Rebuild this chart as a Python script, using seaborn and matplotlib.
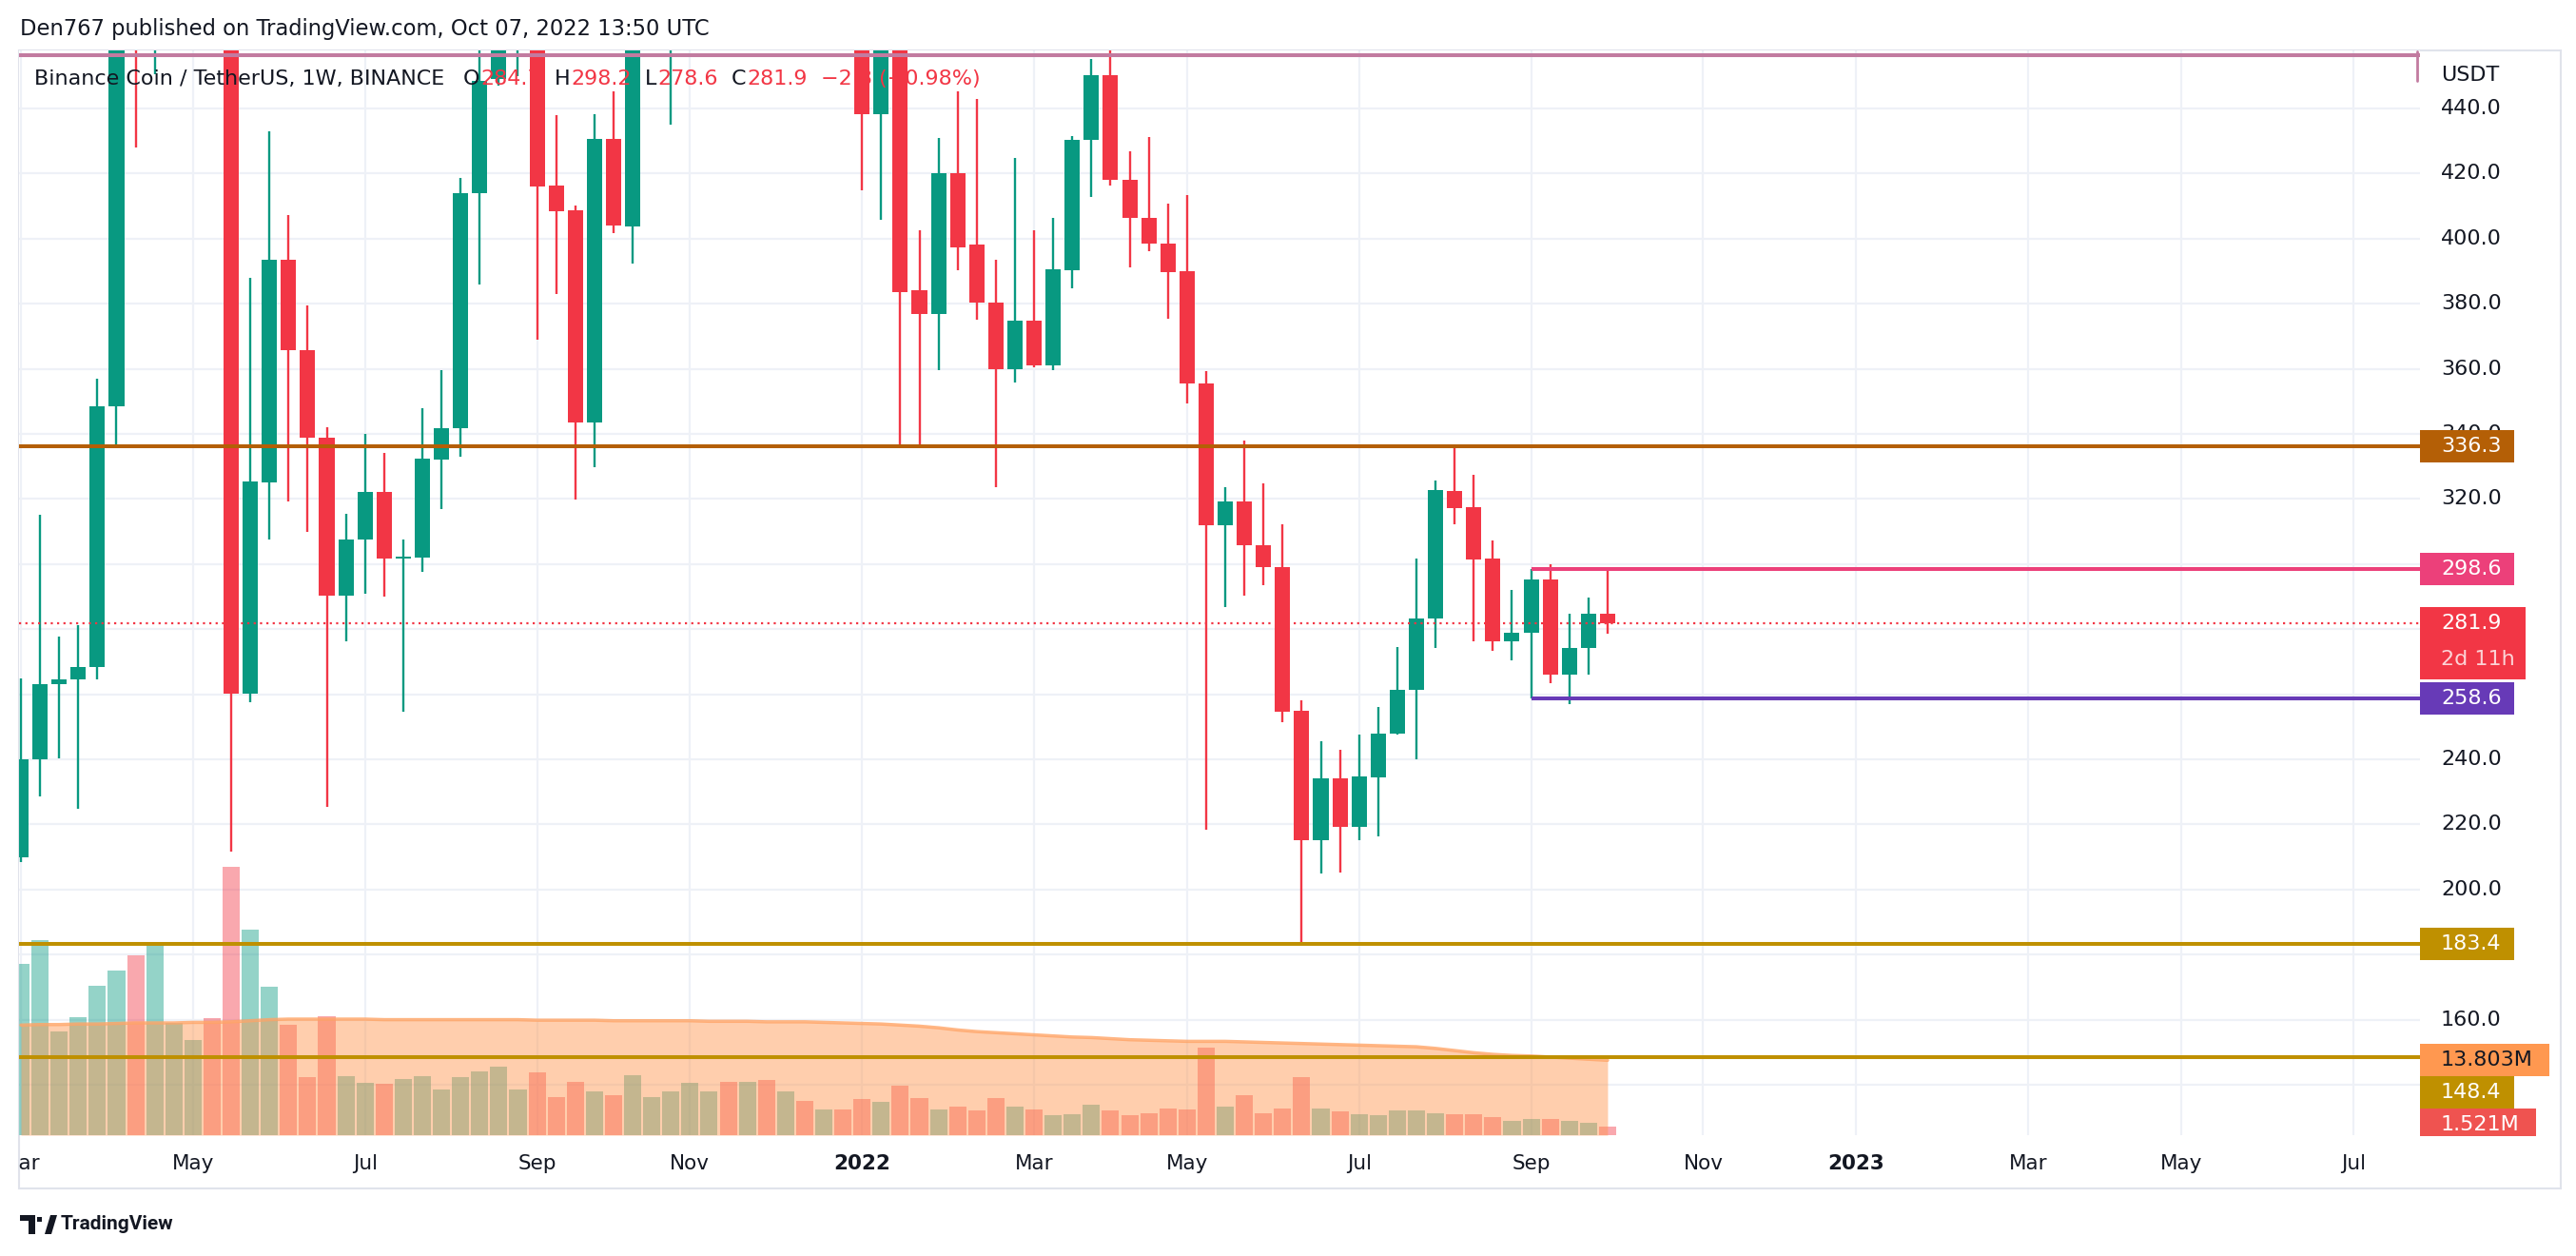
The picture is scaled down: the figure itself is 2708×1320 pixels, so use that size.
import numpy as np
import pandas as pd
import matplotlib
matplotlib.use("Agg")
import matplotlib.pyplot as plt
import seaborn as sns
from matplotlib.patches import Rectangle, Polygon
from matplotlib.lines import Line2D
from matplotlib.transforms import Bbox, blended_transform_factory

# ---------------- data (weekly BNB/USDT, starting Monday 2021-03-01) ----------------
start_date = "2021-03-01"
opens = [209.8, 239.9, 263.0, 264.4, 268.3, 348.5, 510.0, 480.0, 530.0, 620.0,
         640.0, 560.0, 260.3, 325.1, 393.5, 365.6, 338.9, 290.4, 307.5, 322.1,
         301.8, 302.0, 332.0, 341.6, 414.0, 449.0, 475.0, 495.0, 416.4, 408.6,
         343.5, 430.5, 403.6, 480.0, 495.0, 530.0, 580.0, 640.0, 560.0, 620.0,
         570.0, 580.0, 520.0, 545.0, 515.0, 438.3, 470.0, 384.0, 376.7, 420.0,
         398.1, 380.4, 359.8, 374.9, 361.0, 390.4, 430.2, 450.1, 418.0, 406.4,
         398.4, 389.9, 355.6, 312.0, 319.2, 305.7, 299.0, 255.0, 215.0, 234.0,
         219.1, 234.5, 247.8, 261.3, 283.3, 322.5, 317.5, 301.6, 276.2, 278.8,
         295.3, 266.0, 274.3, 284.7]
highs = [264.7, 315.2, 277.8, 281.2, 356.9, 520.0, 638.0, 560.0, 640.0, 690.0,
         690.0, 600.0, 388.0, 432.9, 407.3, 379.5, 342.0, 315.5, 340.0, 334.2,
         307.6, 347.8, 359.7, 418.5, 470.0, 490.0, 510.0, 520.0, 438.0, 410.1,
         438.1, 445.1, 520.0, 530.0, 560.0, 600.0, 670.0, 650.0, 640.0, 640.0,
         600.0, 590.0, 560.0, 560.0, 530.0, 500.0, 490.0, 402.4, 431.0, 445.2,
         442.9, 393.5, 424.8, 402.6, 406.2, 431.4, 455.3, 465.0, 426.8, 431.3,
         410.6, 413.5, 359.3, 323.5, 337.9, 324.7, 312.1, 258.0, 245.4, 243.0,
         247.7, 256.2, 274.6, 301.6, 325.6, 336.1, 327.4, 307.2, 291.9, 298.6,
         300.0, 284.8, 289.8, 298.2]
lows = [208.5, 228.7, 240.4, 224.8, 264.4, 336.6, 427.9, 450.4, 500.0, 600.0,
        480.0, 211.7, 257.4, 307.6, 319.1, 309.9, 225.3, 276.3, 290.9, 290.1,
        254.7, 297.5, 317.0, 333.0, 385.8, 447.0, 450.0, 369.0, 382.9, 319.9,
        329.8, 401.8, 392.4, 465.0, 435.1, 500.0, 560.0, 530.0, 540.0, 490.0,
        520.0, 490.0, 510.0, 500.0, 414.9, 405.7, 336.5, 336.5, 359.5, 390.4,
        375.1, 323.5, 355.8, 360.3, 359.5, 384.8, 412.7, 416.2, 391.1, 396.0,
        375.4, 349.3, 218.3, 286.7, 290.4, 293.4, 251.3, 183.4, 204.8, 205.3,
        215.0, 216.4, 247.5, 239.9, 274.1, 312.3, 276.2, 273.2, 270.5, 258.6,
        263.3, 256.8, 266.1, 278.6]
closes = [240.0, 263.2, 264.4, 268.2, 348.6, 510.0, 480.0, 530.0, 620.0, 640.0,
          560.0, 260.3, 325.4, 393.5, 365.6, 338.9, 290.4, 307.5, 322.1, 301.8,
          302.3, 332.4, 341.6, 414.0, 448.5, 475.0, 495.0, 415.9, 408.3, 343.5,
          430.5, 404.0, 480.0, 495.0, 530.0, 580.0, 640.0, 560.0, 620.0, 570.0,
          580.0, 520.0, 545.0, 515.0, 438.3, 470.0, 383.4, 376.7, 420.0, 397.4,
          380.2, 359.8, 374.9, 361.0, 390.6, 430.3, 450.1, 418.0, 406.4, 398.4,
          389.7, 355.5, 312.0, 319.2, 305.7, 298.9, 254.7, 215.0, 234.0, 219.1,
          234.8, 248.0, 261.4, 283.3, 322.7, 317.3, 301.5, 276.2, 279.0, 295.3,
          266.0, 274.3, 284.7, 281.9]
# volume in millions
volume = [31.5, 36.0, 19.2, 21.7, 27.5, 30.3, 33.1, 35.2, 20.7, 17.5,
          21.6, 49.4, 37.9, 27.3, 20.3, 10.7, 21.9, 10.9, 9.7, 9.4,
          10.4, 10.9, 8.5, 10.7, 11.8, 12.7, 8.5, 11.6, 7.1, 9.9,
          8.1, 7.3, 11.1, 7.1, 8.0, 9.7, 8.0, 9.9, 9.9, 10.2,
          8.0, 6.4, 4.8, 4.8, 6.6, 6.2, 9.2, 6.9, 4.8, 5.2,
          4.6, 6.9, 5.3, 4.8, 3.6, 3.8, 5.7, 4.6, 3.6, 4.0,
          5.0, 4.8, 16.2, 5.2, 7.4, 4.1, 5.0, 10.7, 5.0, 4.3,
          3.8, 3.6, 4.5, 4.6, 4.1, 3.8, 3.8, 3.3, 2.6, 2.9,
          2.9, 2.7, 2.2, 1.521]
volume_ma = [20.3, 20.4, 20.4, 20.5, 20.5, 20.6, 20.7, 20.7, 20.7, 20.8,
             20.8, 20.9, 21.1, 21.3, 21.4, 21.4, 21.4, 21.4, 21.4, 21.3,
             21.3, 21.3, 21.3, 21.3, 21.3, 21.3, 21.3, 21.2, 21.2, 21.2,
             21.2, 21.1, 21.1, 21.1, 21.1, 21.1, 21.0, 21.0, 21.0, 20.9,
             20.9, 20.9, 20.8, 20.7, 20.6, 20.5, 20.3, 20.1, 19.8, 19.4,
             19.1, 18.9, 18.7, 18.5, 18.3, 18.1, 18.0, 17.8, 17.6, 17.5,
             17.4, 17.3, 17.3, 17.3, 17.2, 17.1, 17.0, 16.9, 16.8, 16.7,
             16.6, 16.5, 16.4, 16.3, 16.0, 15.6, 15.2, 14.9, 14.7, 14.6,
             14.4, 14.2, 14.0, 13.803]

levels_full = [(456.3, "#c27ba0"), (336.3, "#b45f06"), (183.4, "#bf9000"), (148.4, "#bf9000")]
range_levels = [(298.6, "#ec407a"), (258.6, "#673ab7")]
range_start = 79
last_price = 281.9
grid_prices = list(range(140, 441, 20))
# axis labels that are not covered by a price label box
price_ticks = [440, 420, 400, 380, 360, 340, 320, 240, 220, 200, 180, 160]

# ---------------- layout ----------------
W, H, DPI = 2708, 1320, 100
L, R, T, B = 20, 2544, 53, 1193
UP, DOWN = "#089981", "#f23645"
TXT = "#131722"

sns.set_theme(style="white")
plt.rcParams["font.family"] = ["DejaVu Sans"]

fig = plt.figure(figsize=(W / DPI, H / DPI), dpi=DPI)
fig.patch.set_facecolor("white")
rect = [L / W, 1 - B / H, (R - L) / W, (B - T) / H]
vax = fig.add_axes(rect)
ax = fig.add_axes(rect, sharex=vax)
vax.set_zorder(1)
ax.set_zorder(2)
ax.patch.set_visible(False)
for a in (ax, vax):
    for s in a.spines.values():
        s.set_visible(False)
    a.tick_params(left=False, right=False, bottom=False, top=False,
                  labelleft=False, labelright=False, labelbottom=False)

n = len(opens)
x = np.arange(n)
O, Hh, Lo, C = map(np.array, (opens, highs, lows, closes))
up = C >= O
cols = np.where(up, UP, DOWN)

ax.set_xlim(-0.1, 125.5)
ax.set_ylim(124.5, 457.8)
vax.set_ylim(0, 200)

# x ticks from dates (first bar of odd months)
dates = pd.date_range(start_date, periods=126, freq="7D")
tick_idx, tick_lab = [], []
for i, d in enumerate(dates):
    if (i == 0 or d.month != dates[i - 1].month) and d.month % 2 == 1:
        tick_idx.append(i)
        tick_lab.append(str(d.year) if d.month == 1 else d.strftime("%b"))

# gridlines (in lower axes so they sit under the volume)
GRID = "#eef1f7"
for i in tick_idx:
    vax.axvline(i, color=GRID, lw=1.6, zorder=0)
hb = blended_transform_factory(vax.transAxes, ax.transData)
for p in grid_prices:
    vax.add_line(Line2D([0, 1], [p, p], transform=hb, color=GRID, lw=1.6, zorder=0))

# volume
vcols = [(8 / 255, 153 / 255, 129 / 255, 0.43) if u else (242 / 255, 54 / 255, 69 / 255, 0.43) for u in up]
vax.bar(x, volume, width=0.9, color=vcols, lw=0, zorder=1)
vax.fill_between(x, 0, volume_ma, color="#ff944b", alpha=0.45, lw=0, zorder=2)
sns.lineplot(x=x, y=volume_ma, ax=vax, color="#ffa466", lw=2.5, alpha=0.8, zorder=3)
vax.set_xlabel("")
vax.set_ylabel("")

# candles
ax.vlines(x, Lo, Hh, colors=cols, lw=1.7, zorder=3)
body = np.maximum(np.abs(C - O), 0.35)
ax.bar(x, body, bottom=np.minimum(O, C), width=0.8, color=cols, lw=0, zorder=3)

# level lines
for p, c in levels_full:
    ax.axhline(p, color=c, lw=2.9, zorder=5)
ax.plot([125.35, 125.35], [457.6, 448.3], color="#c27ba0", lw=2.0, zorder=5, clip_on=False)
for p, c in range_levels:
    ax.hlines(p, range_start, 125.5, color=c, lw=2.9, zorder=5)
ax.axhline(last_price, color=DOWN, lw=1.6, ls=(0, (1, 2)), zorder=4)

# ---------------- text ----------------
def ypix(a, v):
    return a.transData.transform((0, v))[1]  # display y from bottom

FS = 16
for p in price_ticks:
    fig.text(2566 / W, ypix(ax, p) / H, f"{p:.1f}", color=TXT, fontsize=FS,
             ha="left", va="center", zorder=3)
fig.text(2566 / W, 1 - 79 / H, "USDT", color=TXT, fontsize=FS, ha="left", va="center")

def box(yc, lines, face, width=99, height=34, tcols=("white",), top=None):
    y0 = yc - height / 2 if top is None else top - height
    fig.add_artist(Rectangle((2544 / W, y0 / H), width / W, height / H,
                             transform=fig.transFigure, facecolor=face, edgecolor="none", zorder=5))
    for k, (txt, tc) in enumerate(zip(lines, tcols)):
        fig.text(2566 / W, (y0 + height - 17 - 38 * k) / H, txt, color=tc, fontsize=FS,
                 ha="left", va="center", zorder=6)

box(ypix(ax, 336.3), ["336.3"], "#b45f06")
box(ypix(ax, 298.6), ["298.6"], "#ec407a")
yl = ypix(ax, last_price)
box(None, ["281.9", "2d 11h"], "#f23645", width=111, height=76, tcols=("white", "#fcd3d6"), top=yl + 17)
box(ypix(ax, 258.6), ["258.6"], "#673ab7")
box(ypix(ax, 183.4), ["183.4"], "#bf9000")
y13 = ypix(vax, 13.803)
box(y13, ["13.803M"], "#ff9850", width=136, tcols=(TXT,))
box(y13 - 34, ["148.4"], "#bf9000")
box(None, ["1.521M"], "#ef5350", width=122, height=29, top=y13 - 51)

# time axis labels
tb = blended_transform_factory(ax.transData, fig.transFigure)
clipbb = Bbox([[L, 0], [R, H]])
for i, lab in zip(tick_idx, tick_lab):
    t = fig.text(i, 1 - 1223 / H, lab, transform=tb, color=TXT, fontsize=15.5,
                 ha="center", va="center", fontweight="bold" if lab.isdigit() else "normal")
    t.set_clip_box(clipbb)
    t.set_clip_on(True)

# header
fig.text(21 / W, 1 - 30 / H, "Den767 published on TradingView.com, Oct 07, 2022 13:50 UTC",
         color=TXT, fontsize=16.3, ha="left", va="center")

# legend line
renderer = fig.canvas.get_renderer()
pieces = [("Binance Coin / TetherUS, 1W, BINANCE", TXT, 20), ("O", TXT, 1), ("284.7", DOWN, 14),
          ("H", TXT, 1), ("298.2", DOWN, 14), ("L", TXT, 1), ("278.6", DOWN, 14),
          ("C", TXT, 1), ("281.9", DOWN, 14), ("\u22122.8 (\u22120.98%)", DOWN, 0)]
xp = 36
for txt, c, gap in pieces:
    t = fig.text(xp / W, 1 - 83 / H, txt, color=c, fontsize=16.0, ha="left", va="center", zorder=10)
    bb = t.get_window_extent(renderer)
    xp = bb.x1 + gap

# frame
fig.add_artist(Rectangle((L / W, 1 - 1249 / H), (2692 - L) / W, (1249 - T) / H,
                         transform=fig.transFigure, facecolor="none", edgecolor="#e0e3eb",
                         lw=1.5, zorder=0))

# TradingView logo
def P(xx, yy):
    return (xx / W, 1 - yy / H)
fig.add_artist(Polygon([P(21, 1277), P(37, 1277), P(37, 1297), P(30, 1297), P(30, 1283), P(21, 1283)],
                       closed=True, transform=fig.transFigure, facecolor=TXT, edgecolor="none"))
fig.add_artist(Polygon([P(47, 1297), P(53, 1277), P(60, 1277), P(54, 1297)],
                       closed=True, transform=fig.transFigure, facecolor=TXT, edgecolor="none"))
fig.add_artist(Rectangle(P(39, 1284), 5 / W, 5 / H, transform=fig.transFigure, facecolor=TXT, edgecolor="none"))
fig.text(64 / W, 1 - 1287 / H, "TradingView", color=TXT, fontsize=15, fontweight="bold",
         family=["Roboto", "DejaVu Sans"], ha="left", va="center")

fig.savefig("out.png", dpi=DPI, facecolor="white")
